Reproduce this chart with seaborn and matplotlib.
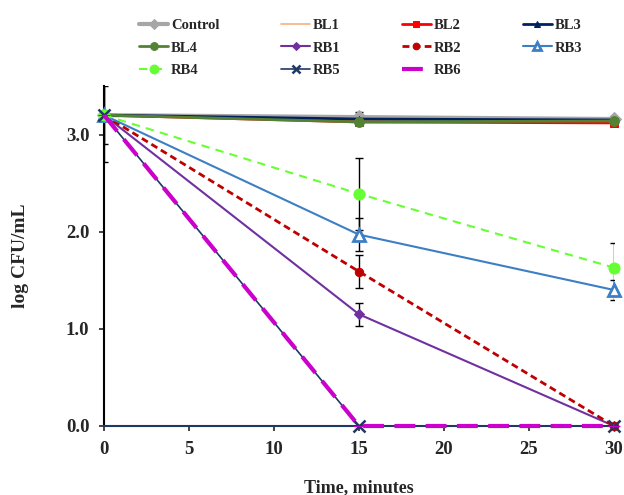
import matplotlib
matplotlib.use("Agg")
import matplotlib.pyplot as plt
import seaborn as sns
import pandas as pd

times = [0, 15, 30]
control = [3.20, 3.18, 3.16]
bl1 = [3.20, 3.15, 3.14]
bl2 = [3.20, 3.13, 3.12]
bl3 = [3.20, 3.16, 3.15]
bl4 = [3.20, 3.13, 3.14]
rb1 = [3.20, 1.15, 0.0]
rb2 = [3.20, 1.59, 0.0]
rb3 = [3.20, 1.97, 1.40]
rb4 = [3.20, 2.39, 1.63]
rb5 = [3.20, 0.0, 0.0]
rb6 = [3.20, 0.0, 0.0]

err_control = [0.0, 0.05, 0.03]
err_rb1 = [0.0, 0.12, 0.0]
err_rb2 = [0.0, 0.17, 0.0]
err_rb3 = [0.30, 0.17, 0.10]
err_rb4 = [0.48, 0.37, 0.25]

sns.set_theme(style="ticks")
plt.rcParams['font.family'] = ['Liberation Serif', 'DejaVu Serif']
plt.rcParams['font.weight'] = 'bold'

fig = plt.figure(figsize=(6.24, 4.95), dpi=100)
ax = fig.add_axes([104/624, 69/495, 510/624, 340/495])

series = [
    ("Control", control, dict(color="#A6A6A6", marker="D", markersize=7, linewidth=3.0, linestyle="-"), err_control),
    ("BL1", bl1, dict(color="#F4B183", marker=None, linewidth=1.2, linestyle="-"), None),
    ("BL2", bl2, dict(color="#FF0000", marker="s", markersize=6, linewidth=2.0, linestyle="-"), None),
    ("BL3", bl3, dict(color="#002060", marker="^", markersize=5, linewidth=2.0, linestyle="-"), None),
    ("BL4", bl4, dict(color="#548235", marker="o", markersize=7, linewidth=2.0, linestyle="-"), None),
    ("RB1", rb1, dict(color="#7030A0", marker="D", markersize=5, linewidth=1.5, linestyle="-"), err_rb1),
    ("RB2", rb2, dict(color="#C00000", marker="o", markersize=6, linewidth=2.0, linestyle=(0, (2.5, 1.5))), err_rb2),
    ("RB3", rb3, dict(color="#3D7FC4", marker="^", markersize=8, linewidth=1.5, linestyle="-",
                      markerfacecolor="white", markeredgewidth=2.0), err_rb3),
    ("RB4", rb4, dict(color="#66FF33", marker="o", markersize=8, linewidth=1.5, linestyle=(0, (4, 3))), err_rb4),
    ("RB5", rb5, dict(color="#1F3864", marker="x", markersize=8, linewidth=1.2, linestyle="-", markeredgewidth=1.8), None),
    ("RB6", rb6, dict(color="#CC00CC", marker="_", markersize=8, linewidth=3.0, linestyle=(0, (5, 2.5))), None),
]

for name, vals, style, err in series:
    df = pd.DataFrame({"Time": times, "log": vals})
    if err is not None:
        ax.errorbar(times, vals, yerr=err, fmt="none", ecolor="black", elinewidth=1.0,
                    capsize=3, capthick=1.0, zorder=1)
    kw = dict(style)
    mk = kw.pop("marker")
    sns.lineplot(data=df, x="Time", y="log", ax=ax, marker=mk if mk else "", label=name,
                 markeredgecolor=kw.get("color") if mk != "x" else None, clip_on=False, zorder=3,
                 **kw)

h, l = ax.get_legend_handles_labels()
hd = dict(zip(l, h))
order = ["Control", "BL4", "RB4", "BL1", "RB1", "RB5", "BL2", "RB2", "RB6", "BL3", "RB3"]
ax.legend([hd[o] for o in order], order, ncol=4, frameon=False,
          loc="upper left", bbox_to_anchor=(126/624, 1 - 6/495), bbox_transform=fig.transFigure,
          prop=dict(family="Liberation Serif", weight="bold", size=10.5),
          handlelength=2.0, columnspacing=4.2, labelspacing=0.62, handletextpad=0.2,
          markerscale=0.8)

ax.set_xlim(0, 30)
ax.set_ylim(0, 3.5)
ax.set_xticks([0, 5, 10, 15, 20, 25, 30])
ax.set_yticks([0, 1, 2, 3])
ax.set_yticklabels(["0.0", "1.0", "2.0", "3.0"])
ax.tick_params(axis="both", labelsize=13.5, width=1.2, length=3.5, direction="out")
ax.tick_params(axis="x", pad=7.5)
ax.tick_params(axis="y", pad=7)
for lab in ax.get_xticklabels() + ax.get_yticklabels():
    lab.set_fontweight("bold")
ax.set_xlabel("Time, minutes", fontsize=13, fontweight="bold")
ax.set_ylabel("log CFU/mL", fontsize=14, fontweight="bold")
ax.xaxis.set_label_coords(0.5, -(488 - 426) / 340, transform=ax.transAxes)
ax.yaxis.set_label_coords(-(104 - 21) / 510, 0.5, transform=ax.transAxes)
ax.xaxis.label.set_va("center")
ax.yaxis.label.set_va("center")
sns.despine(ax=ax)
ax.spines["left"].set_linewidth(1.5)
ax.spines["bottom"].set_linewidth(1.5)
ax.spines["left"].set_color("black")
ax.spines["bottom"].set_color("#1F3864")

fig.savefig("out.png", dpi=100)
